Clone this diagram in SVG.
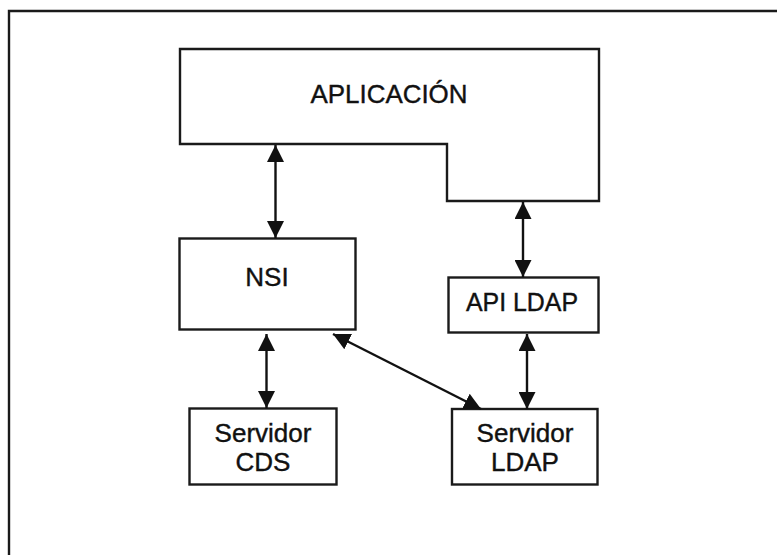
<svg xmlns="http://www.w3.org/2000/svg" width="777" height="555" viewBox="0 0 777 555">
  <style>
    .box { fill: #ffffff; stroke: #1a1a1a; stroke-width: 2.4; }
    .frame { fill: none; stroke: #1a1a1a; stroke-width: 2.4; }
    .lbl { font-family: "Liberation Sans", Arial, sans-serif; font-size: 26px; fill: #111111; stroke: #111111; stroke-width: 0.4; text-anchor: middle; }
    .link { stroke: #111111; stroke-width: 2.4; fill: none; marker-start: url(#head); marker-end: url(#head); }
  </style>
  <defs>
    <marker id="head" viewBox="0 0 16 16" refX="16" refY="8" markerWidth="17" markerHeight="17" markerUnits="userSpaceOnUse" orient="auto-start-reverse">
      <path d="M0,0 L16,8 L0,16 z" fill="#111111"/>
    </marker>
  </defs>

  <rect x="0" y="0" width="777" height="555" fill="#ffffff"/>
  <!-- outer frame (left and top edges) -->
  <path class="frame" d="M9,555 V11 H777"/>

  <g id="aplicacion">
    <path class="box" d="M180,49 H599 V201 H447 V144 H180 Z"/>
    <text class="lbl" x="389" y="103" textLength="157" lengthAdjust="spacingAndGlyphs">APLICACIÓN</text>
  </g>

  <g id="nsi">
    <rect class="box" x="179.5" y="238.5" width="176" height="91"/>
    <text class="lbl" x="267" y="286">NSI</text>
  </g>

  <g id="api-ldap">
    <rect class="box" x="448.5" y="277.5" width="150" height="55"/>
    <text class="lbl" x="522" y="311" textLength="112" lengthAdjust="spacingAndGlyphs">API LDAP</text>
  </g>

  <g id="servidor-cds">
    <rect class="box" x="189.5" y="408.5" width="147" height="76"/>
    <text class="lbl" x="263" y="442">Servidor</text>
    <text class="lbl" x="263" y="471">CDS</text>
  </g>

  <g id="servidor-ldap">
    <rect class="box" x="452" y="409" width="145.5" height="75.5"/>
    <text class="lbl" x="525" y="442">Servidor</text>
    <text class="lbl" x="525" y="471">LDAP</text>
  </g>

  <g id="connectors">
    <line class="link" x1="275.5" y1="145" x2="275.5" y2="238"/>
    <line class="link" x1="523" y1="202" x2="523" y2="277"/>
    <line class="link" x1="266.5" y1="334" x2="266.5" y2="408"/>
    <line class="link" x1="527" y1="334" x2="527" y2="409"/>
    <line class="link" x1="333" y1="334" x2="481" y2="409"/>
  </g>
</svg>
